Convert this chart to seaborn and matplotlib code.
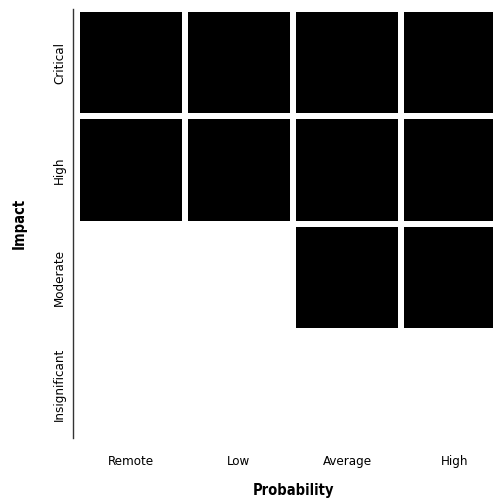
import numpy as np
import pandas as pd
import matplotlib
matplotlib.use("Agg")
import matplotlib.pyplot as plt
import seaborn as sns
from matplotlib.colors import ListedColormap

probability = ["Remote", "Low", "Average", "High"]
impact = ["Critical", "High", "Moderate", "Insignificant"]
critical_row = [1, 1, 1, 1]
high_row = [1, 1, 1, 1]
moderate_row = [np.nan, np.nan, 1, 1]
insignificant_row = [np.nan, np.nan, np.nan, np.nan]

df = pd.DataFrame([critical_row, high_row, moderate_row, insignificant_row],
                  index=impact, columns=probability)

sns.set_theme(style="white")
plt.rcParams['font.family'] = ['DejaVu Sans']
plt.rcParams['font.stretch'] = 'condensed'

fig = plt.figure(figsize=(4.93, 5.01), dpi=100)
W, H = 493, 501
ax = fig.add_axes([77 / W, 1 - 438 / H, 432 / W, 429 / H])
sns.heatmap(df, ax=ax, cmap=ListedColormap(["black"]), cbar=False,
            linewidths=4.3, linecolor="white", square=False)

ax.tick_params(axis="both", length=0, labelsize=9.5, colors="black")
ax.tick_params(axis="x", pad=12, labelrotation=0)
ax.tick_params(axis="y", pad=5, labelrotation=90)
ax.set_xlabel("Probability", fontsize=10.5, fontweight="bold", labelpad=11,
              color="black", fontstretch="condensed")
ax.set_ylabel("Impact", fontsize=10.5, fontweight="bold", labelpad=19,
              color="black", fontstretch="condensed")
ax.spines["left"].set_visible(True)
ax.spines["left"].set_color("#333333")
ax.spines["left"].set_linewidth(1)
ax.spines["left"].set_position(("outward", 3))
for s in ["top", "right", "bottom"]:
    ax.spines[s].set_visible(False)

fig.canvas.draw()
for t in ax.get_yticklabels():
    t.set_rotation_mode("default")
    t.set_va("center")
    t.set_ha("right")

fig.savefig("out.png", dpi=100)
